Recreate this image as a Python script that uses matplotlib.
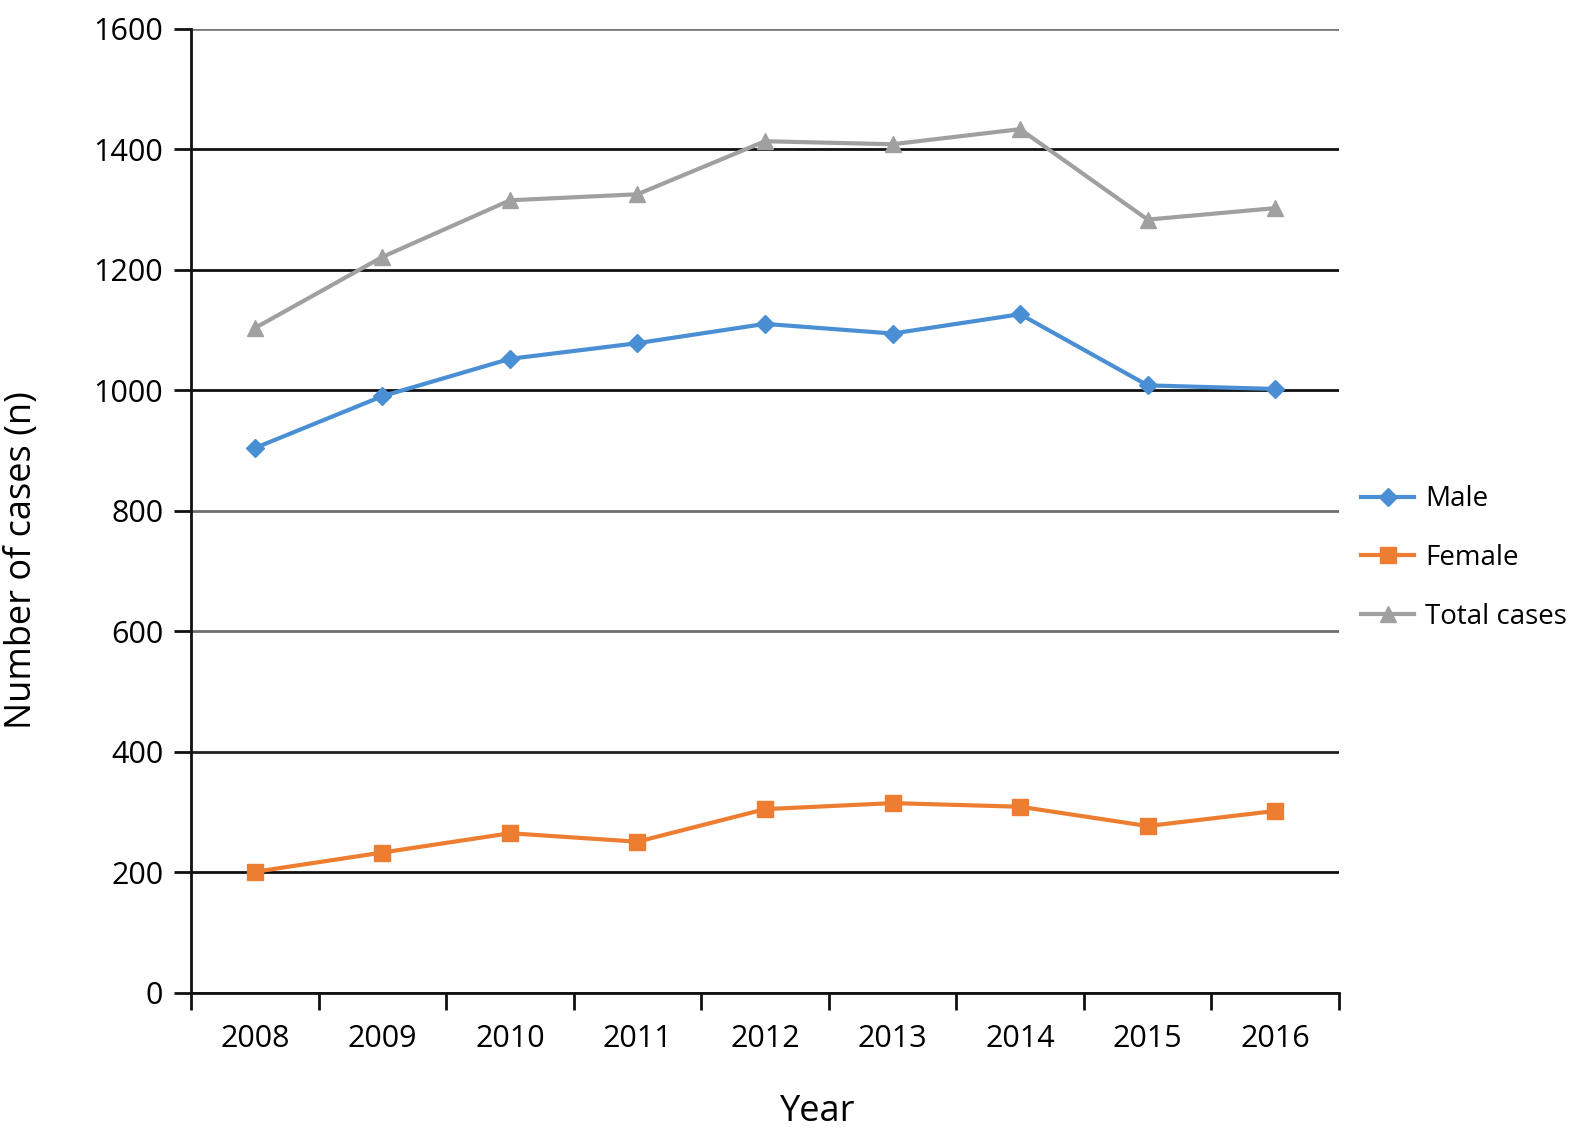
import matplotlib.pyplot as plt
import numpy as np

years = ['2008', '2009', '2010', '2011', '2012', '2013', '2014', '2015', '2016']
male = [904, 990, 1052, 1078, 1110, 1094, 1126, 1008, 1002]
female = [201, 233, 265, 251, 305, 315, 309, 277, 302]
total = [1103, 1221, 1315, 1325, 1413, 1408, 1433, 1283, 1302]

y_ticks = [0, 200, 400, 600, 800, 1000, 1200, 1400, 1600]

plt.rcParams['font.family'] = ['Open Sans', 'DejaVu Sans']

fig = plt.figure(figsize=(15.94, 11.28), dpi=100)
ax = fig.add_axes([191 / 1594, 1 - 993 / 1128, (1339 - 191) / 1594, (993 - 28.5) / 1128])

x = np.arange(len(years))

# horizontal gridlines (some render lighter in the original)
grid_col = {0: '#111111', 200: '#111111', 400: '#222222', 600: '#6e6e6e',
            800: '#6e6e6e', 1000: '#111111', 1200: '#111111', 1400: '#111111',
            1600: '#7a7a7a'}
for v in y_ticks:
    ax.axhline(v, color=grid_col[v], lw=2, zorder=1)

ax.plot(x, male, color='#4a8fd4', lw=3, marker='D', ms=9, label='Male', zorder=3)
ax.plot(x, female, color='#ed7d31', lw=3, marker='s', ms=11, label='Female', zorder=3)
ax.plot(x, total, color='#a0a0a0', lw=3, marker='^', ms=12, label='Total cases', zorder=3)

ax.set_xlim(-0.5, len(years) - 0.5)
ax.set_ylim(0, 1600)

ax.set_yticks(y_ticks)
ax.tick_params(axis='y', length=12, width=2, color='#111111', labelsize=22, pad=8)

# ticks between categories, labels at centres
ax.set_xticks(np.arange(len(years) + 1) - 0.5)
ax.set_xticklabels([])
ax.set_xticks(x, minor=True)
ax.set_xticklabels(years, minor=True, fontsize=22)
ax.tick_params(axis='x', which='major', length=12, width=2, color='#111111', direction='out')
ax.tick_params(axis='x', which='minor', length=0, pad=22)

for s in ['top', 'right']:
    ax.spines[s].set_visible(False)
ax.spines['left'].set_linewidth(2)
ax.spines['left'].set_color('#111111')
ax.spines['bottom'].set_linewidth(2)
ax.spines['bottom'].set_color('#111111')

ax.set_xlabel('Year', fontsize=26)
ax.xaxis.set_label_coords(0.546, -0.105)
ax.set_ylabel('Number of cases (n)', fontsize=26, va='center')
ax.yaxis.set_label_coords(-0.147, 0.449)

ax.legend(loc='center left', bbox_to_anchor=(1.005, 0.451), frameon=False, fontsize=20,
          handlelength=1.9, handletextpad=0.4, labelspacing=1.1, borderaxespad=0.2)

fig.savefig('out.png', dpi=100)
